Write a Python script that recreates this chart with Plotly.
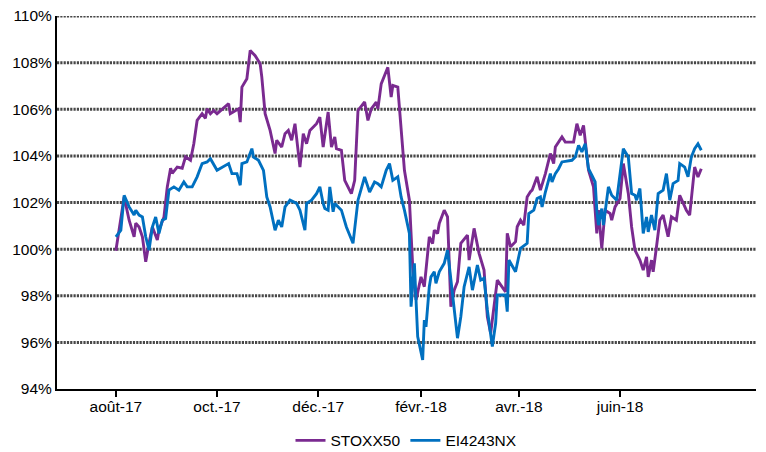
import plotly.graph_objects as go

# ---------------- data ----------------
stoxx_dates = [
    "2017-08-01", "2017-08-06", "2017-08-09", "2017-08-12", "2017-08-13", "2017-08-15", "2017-08-17",
    "2017-08-19", "2017-08-21", "2017-08-23", "2017-08-26", "2017-08-27", "2017-08-30", "2017-09-01",
    "2017-09-03", "2017-09-04", "2017-09-07", "2017-09-10", "2017-09-12", "2017-09-15", "2017-09-17",
    "2017-09-19", "2017-09-22", "2017-09-24", "2017-09-25", "2017-09-27", "2017-09-29", "2017-10-01",
    "2017-10-08", "2017-10-09", "2017-10-14", "2017-10-15", "2017-10-16", "2017-10-19", "2017-10-21",
    "2017-10-24", "2017-10-27", "2017-10-28", "2017-10-30", "2017-11-02", "2017-11-05", "2017-11-06",
    "2017-11-09", "2017-11-11", "2017-11-13", "2017-11-15", "2017-11-17", "2017-11-20", "2017-11-22",
    "2017-11-24", "2017-11-26", "2017-11-28", "2017-11-30", "2017-12-02", "2017-12-04", "2017-12-07",
    "2017-12-09", "2017-12-11", "2017-12-12", "2017-12-15", "2017-12-17", "2017-12-21", "2017-12-23",
    "2017-12-25", "2017-12-29", "2017-12-31", "2018-01-02", "2018-01-05", "2018-01-06", "2018-01-08",
    "2018-01-12", "2018-01-14", "2018-01-15", "2018-01-18", "2018-01-22", "2018-01-25", "2018-01-27",
    "2018-01-29", "2018-02-01", "2018-02-03", "2018-02-06", "2018-02-08", "2018-02-09", "2018-02-11",
    "2018-02-12", "2018-02-15", "2018-02-17", "2018-02-19", "2018-02-21", "2018-02-23", "2018-02-25",
    "2018-03-01", "2018-03-02", "2018-03-05", "2018-03-08", "2018-03-11", "2018-03-13", "2018-03-15",
    "2018-03-17", "2018-03-19", "2018-03-24", "2018-03-25", "2018-03-27", "2018-03-30", "2018-03-31",
    "2018-04-02", "2018-04-04", "2018-04-06", "2018-04-08", "2018-04-09", "2018-04-12", "2018-04-14",
    "2018-04-17", "2018-04-20", "2018-04-22", "2018-04-23", "2018-04-27", "2018-04-29", "2018-05-04",
    "2018-05-06", "2018-05-08", "2018-05-10", "2018-05-13", "2018-05-16", "2018-05-18", "2018-05-19",
    "2018-05-21", "2018-05-23", "2018-05-26", "2018-05-27", "2018-05-29", "2018-06-01", "2018-06-03",
    "2018-06-06", "2018-06-08", "2018-06-10", "2018-06-13", "2018-06-15", "2018-06-17", "2018-06-18",
    "2018-06-20", "2018-06-21", "2018-06-23", "2018-06-25", "2018-06-27", "2018-06-30", "2018-07-02",
    "2018-07-05", "2018-07-07", "2018-07-09", "2018-07-11", "2018-07-13", "2018-07-14", "2018-07-16",
    "2018-07-18", "2018-07-20",
]
stoxx_values = [
    99.93, 102.24, 101.24, 100.53, 101.11, 100.95, 100.53,
    99.46, 100.26, 100.95, 100.39, 100.81, 101.38, 102.67,
    103.47, 103.25, 103.52, 103.47, 103.96, 103.81, 104.52,
    105.52, 105.81, 105.61, 106.02, 105.81, 105.95, 105.81,
    106.24, 105.81, 106.02, 105.45, 106.95, 107.31, 108.52,
    108.30, 107.95, 107.38, 105.81, 105.09, 104.10, 104.67,
    104.38, 104.95, 105.09, 104.67, 105.38, 103.52, 104.95,
    104.52, 105.09, 105.24, 105.38, 105.66, 104.38, 105.88,
    104.38, 104.81, 104.31, 104.24, 102.95, 102.38, 102.95,
    105.95, 106.31, 105.52, 106.02, 106.31, 106.02, 107.09,
    107.80, 106.52, 107.02, 106.95, 103.38, 102.10, 99.24,
    97.82, 98.81, 98.39, 100.53, 100.24, 100.81, 100.67,
    101.10, 101.67, 101.38, 97.53, 98.24, 98.60, 100.25,
    100.60, 99.53, 100.89, 99.82, 99.10, 97.10, 96.39,
    97.53, 98.67, 98.17, 100.68, 100.10, 100.32, 100.96,
    101.24, 101.03, 102.24, 102.46, 102.53, 103.10, 102.53,
    103.24, 104.10, 103.67, 104.38, 104.81, 104.59, 104.59,
    105.38, 104.88, 105.31, 103.38, 102.67, 100.67, 101.67,
    100.03, 101.67, 101.53, 101.24, 101.81, 102.17, 103.67,
    102.39, 100.95, 99.96, 99.53, 99.10, 99.67, 98.81,
    99.53, 99.03, 100.10, 101.24, 101.46, 100.53, 101.39,
    101.24, 102.31, 101.96, 101.67, 101.46, 102.24, 103.52,
    103.09, 103.45,
]

ei_dates = [
    "2017-08-01", "2017-08-04", "2017-08-06", "2017-08-09", "2017-08-12", "2017-08-13", "2017-08-15",
    "2017-08-17", "2017-08-19", "2017-08-21", "2017-08-23", "2017-08-25", "2017-08-27", "2017-08-29",
    "2017-08-31", "2017-09-02", "2017-09-05", "2017-09-08", "2017-09-11", "2017-09-13", "2017-09-16",
    "2017-09-19", "2017-09-22", "2017-09-25", "2017-09-27", "2017-10-01", "2017-10-08", "2017-10-10",
    "2017-10-13", "2017-10-15", "2017-10-16", "2017-10-19", "2017-10-22", "2017-10-23", "2017-10-26",
    "2017-10-29", "2017-10-31", "2017-11-02", "2017-11-05", "2017-11-07", "2017-11-09", "2017-11-11",
    "2017-11-14", "2017-11-18", "2017-11-20", "2017-11-23", "2017-11-24", "2017-11-27", "2017-11-30",
    "2017-12-02", "2017-12-04", "2017-12-05", "2017-12-07", "2017-12-08", "2017-12-10", "2017-12-11",
    "2017-12-15", "2017-12-18", "2017-12-22", "2017-12-25", "2017-12-29", "2018-01-01", "2018-01-04",
    "2018-01-06", "2018-01-08", "2018-01-11", "2018-01-13", "2018-01-15", "2018-01-18", "2018-01-20",
    "2018-01-22", "2018-01-25", "2018-01-26", "2018-01-28", "2018-01-30", "2018-02-02", "2018-02-03",
    "2018-02-04", "2018-02-06", "2018-02-07", "2018-02-09", "2018-02-10", "2018-02-12", "2018-02-15",
    "2018-02-17", "2018-02-19", "2018-02-21", "2018-02-23", "2018-02-25", "2018-02-27", "2018-03-02",
    "2018-03-04", "2018-03-07", "2018-03-09", "2018-03-11", "2018-03-13", "2018-03-16", "2018-03-18",
    "2018-03-19", "2018-03-24", "2018-03-25", "2018-03-26", "2018-03-30", "2018-04-01", "2018-04-02",
    "2018-04-06", "2018-04-07", "2018-04-10", "2018-04-12", "2018-04-14", "2018-04-15", "2018-04-17",
    "2018-04-20", "2018-04-21", "2018-04-23", "2018-04-25", "2018-04-27", "2018-05-03", "2018-05-05",
    "2018-05-07", "2018-05-09", "2018-05-11", "2018-05-13", "2018-05-15", "2018-05-17", "2018-05-18",
    "2018-05-19", "2018-05-21", "2018-05-22", "2018-05-25", "2018-05-27", "2018-05-30", "2018-06-01",
    "2018-06-03", "2018-06-06", "2018-06-08", "2018-06-10", "2018-06-11", "2018-06-13", "2018-06-15",
    "2018-06-17", "2018-06-18", "2018-06-20", "2018-06-22", "2018-06-24", "2018-06-27", "2018-06-29",
    "2018-07-01", "2018-07-03", "2018-07-06", "2018-07-07", "2018-07-10", "2018-07-12", "2018-07-14",
    "2018-07-16", "2018-07-18", "2018-07-20",
]
ei_values = [
    100.53, 100.81, 102.31, 101.81, 101.46, 101.67, 101.46,
    101.38, 100.53, 99.96, 100.95, 101.38, 100.67, 101.24,
    101.31, 102.53, 102.67, 102.53, 102.88, 102.67, 102.67,
    103.10, 103.67, 103.74, 103.88, 103.38, 103.67, 103.24,
    103.24, 102.74, 103.67, 103.74, 104.31, 103.95, 103.81,
    103.38, 102.24, 101.81, 100.81, 101.24, 100.95, 101.81,
    102.10, 101.96, 101.67, 100.81, 101.96, 102.10, 102.38,
    102.67, 101.96, 101.74, 101.67, 102.67, 101.60, 101.96,
    101.67, 100.95, 100.25, 102.10, 103.10, 102.45, 102.88,
    102.81, 102.67, 103.38, 103.67, 102.95, 103.10, 102.24,
    101.67, 100.67, 97.53, 99.39, 96.25, 95.25, 96.96,
    96.67, 98.39, 98.81, 99.03, 98.53, 99.03, 99.39,
    99.96, 98.67, 97.39, 96.18, 97.10, 98.39, 99.24,
    98.24, 99.32, 98.67, 98.75, 97.39, 95.82, 96.82,
    98.03, 98.03, 97.32, 99.53, 99.03, 99.67, 100.03,
    100.25, 101.53, 101.67, 102.17, 102.24, 101.81, 102.45,
    103.24, 102.88, 103.24, 103.45, 103.74, 103.81, 103.95,
    104.45, 104.17, 104.52, 103.45, 103.17, 102.88, 101.67,
    101.03, 101.74, 101.03, 102.67, 102.31, 102.10, 103.10,
    104.31, 103.95, 102.38, 102.31, 102.10, 102.60, 100.67,
    101.38, 100.74, 101.46, 100.81, 102.38, 102.53, 103.24,
    102.10, 102.81, 102.95, 103.67, 103.52, 103.10, 103.95,
    104.31, 104.52, 104.24,
]

series_names = ["STOXX50", "EI4243NX"]
tick_dates = ["2017-08-01", "2017-10-01", "2017-12-01", "2018-02-01", "2018-04-01", "2018-06-01"]
tick_labels = ["août-17", "oct.-17", "déc.-17", "févr.-18", "avr.-18", "juin-18"]
y_ticks = [94, 96, 98, 100, 102, 104, 106, 108, 110]
y_labels = ["94%", "96%", "98%", "100%", "102%", "104%", "106%", "108%", "110%"]

# ---------------- figure ----------------
FONT = "Liberation Sans, Arial, sans-serif"
FS = 15.5
PURPLE = "#7A2A90"
BLUE = "#0070C0"
GRID = "#474747"

fig = go.Figure()
fig.add_trace(go.Scatter(x=stoxx_dates, y=stoxx_values, mode="lines", name=series_names[0],
                         line=dict(color=PURPLE, width=2.9)))
fig.add_trace(go.Scatter(x=ei_dates, y=ei_values, mode="lines", name=series_names[1],
                         line=dict(color=BLUE, width=2.9)))

# dotted horizontal grid lines (except the baseline which is the x axis)
for v in y_ticks[1:]:
    fig.add_shape(type="line", xref="paper", yref="y", x0=0, x1=1, y0=v, y1=v,
                  line=dict(color=GRID, width=3, dash="2.2px,1.1px"), layer="below")

fig.update_layout(
    width=766, height=452,
    margin=dict(l=57, r=10, t=16, b=63, autoexpand=False),
    paper_bgcolor="white", plot_bgcolor="white",
    font=dict(family=FONT, size=FS, color="black"),
    showlegend=True,
    legend=dict(orientation="h", x=0.5, xanchor="center", y=-0.139, yanchor="middle",
                font=dict(family=FONT, size=FS, color="black"),
                tracegroupgap=0),
    xaxis=dict(
        type="date",
        range=["2017-06-26T12:00", "2018-08-22"],
        tickmode="array", tickvals=tick_dates, ticktext=tick_labels,
        showgrid=False, zeroline=False, automargin=False,
        showline=True, linecolor="black", linewidth=2,
        ticks="outside", ticklen=6, tickwidth=2, tickcolor="black",
        ticklabelstandoff=-4,
        tickfont=dict(family=FONT, size=FS, color="black"),
    ),
    yaxis=dict(
        range=[94, 110],
        tickmode="array", tickvals=y_ticks, ticktext=y_labels,
        showgrid=False, zeroline=False, automargin=False,
        showline=True, linecolor="black", linewidth=2,
        ticks="", ticklen=0,
        tickfont=dict(family=FONT, size=FS, color="black"),
    ),
)

fig.write_html(
    "out.html",
    config={"displayModeBar": False, "staticPlot": False},
    post_script="document.body.style.margin='0';document.body.style.overflow='hidden';",
)
